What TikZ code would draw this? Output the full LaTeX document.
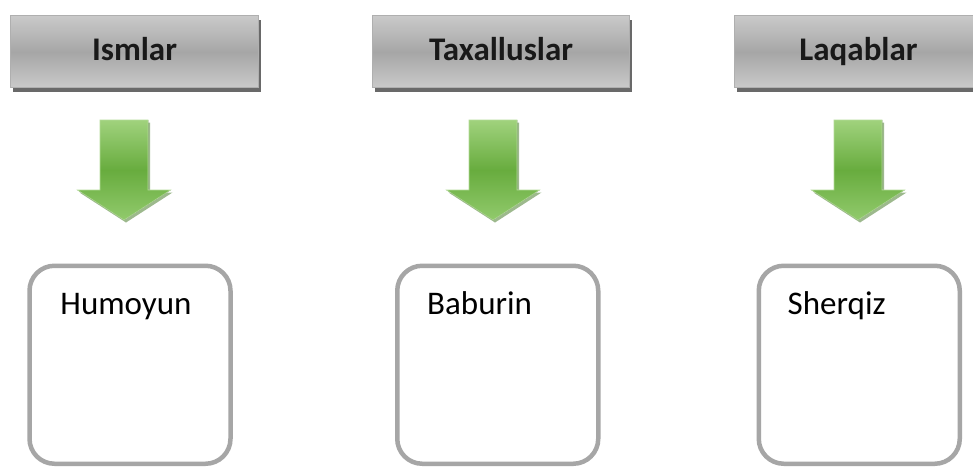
\documentclass[tikz,border=0pt]{standalone}
\usepackage{fontspec}
\setmainfont{Carlito}
\usetikzlibrary{shadows,calc}
\definecolor{hdtop}{RGB}{202,202,202}
\definecolor{hdmid}{RGB}{166,166,166}
\definecolor{hdborder}{RGB}{175,175,175}
\definecolor{hdshadow}{RGB}{105,105,105}
\definecolor{grtop}{RGB}{160,210,125}
\definecolor{grmid}{RGB}{104,172,62}
\definecolor{grbot}{RGB}{145,202,108}
\definecolor{grshadow}{RGB}{78,128,48}
\definecolor{boxgray}{RGB}{166,166,166}
\begin{document}
\begin{tikzpicture}[x=1pt,y=-1pt,
  header/.style={draw=hdborder, line width=1pt, top color=hdtop, bottom color=hdtop, middle color=hdmid,
    minimum width=248pt, minimum height=72pt, inner sep=0pt,
    font=\fontsize{33}{40}\selectfont\bfseries, text=black!90,
    text height=22pt, text depth=5pt,
    drop shadow={shadow xshift=2.5pt, shadow yshift=-4.5pt, fill=hdshadow, opacity=1}},
  namebox/.style={draw=boxgray, line width=4.5pt, rounded corners=25pt,
    minimum width=201pt, minimum height=198pt, inner sep=0pt},
  nametext/.style={anchor=base west, inner sep=0pt, font=\fontsize{33}{40}\selectfont, text=black},
  greenarrow/.pic={
    \fill[grshadow, opacity=0.55] (-22,2.5) -- (26,2.5) -- (26,72.5) -- (48.5,72.5) -- (2,102.5) -- (-44.5,72.5) -- (-22,72.5) -- cycle;
    \fill[top color=grtop, bottom color=grbot, middle color=grmid, draw=grtop!80!white, line width=0.6pt]
      (-24,0) -- (24,0) -- (24,70) -- (46.5,70) -- (0,100) -- (-46.5,70) -- (-24,70) -- cycle;
  }]
\useasboundingbox (0,0) rectangle (973,467);
\clip (0,0) rectangle (973,467);
\fill[white] (0,0) rectangle (973,467);

\node[header] (h1) at (134.5,51.5) {Ismlar};
\node[header, minimum width=257pt] (h2) at (501,51.5) {Taxalluslar};
\node[header] (h3) at (858.5,51.5) {Laqablar};

\pic at (124,120) {greenarrow};
\pic at (493,120) {greenarrow};
\pic at (858,120) {greenarrow};

\node[namebox] (b1) at (130,364.75) {};
\node[namebox] (b2) at (497.75,364.75) {};
\node[namebox] (b3) at (859.25,364.75) {};

\node[nametext] (t1) at ($(b1.north west)+(33,51)$) {Humoyun};
\node[nametext] (t2) at ($(b2.north west)+(32,51)$) {Baburin};
\node[nametext] (t3) at ($(b3.north west)+(31,51)$) {Sherqiz};
\end{tikzpicture}
\end{document}
